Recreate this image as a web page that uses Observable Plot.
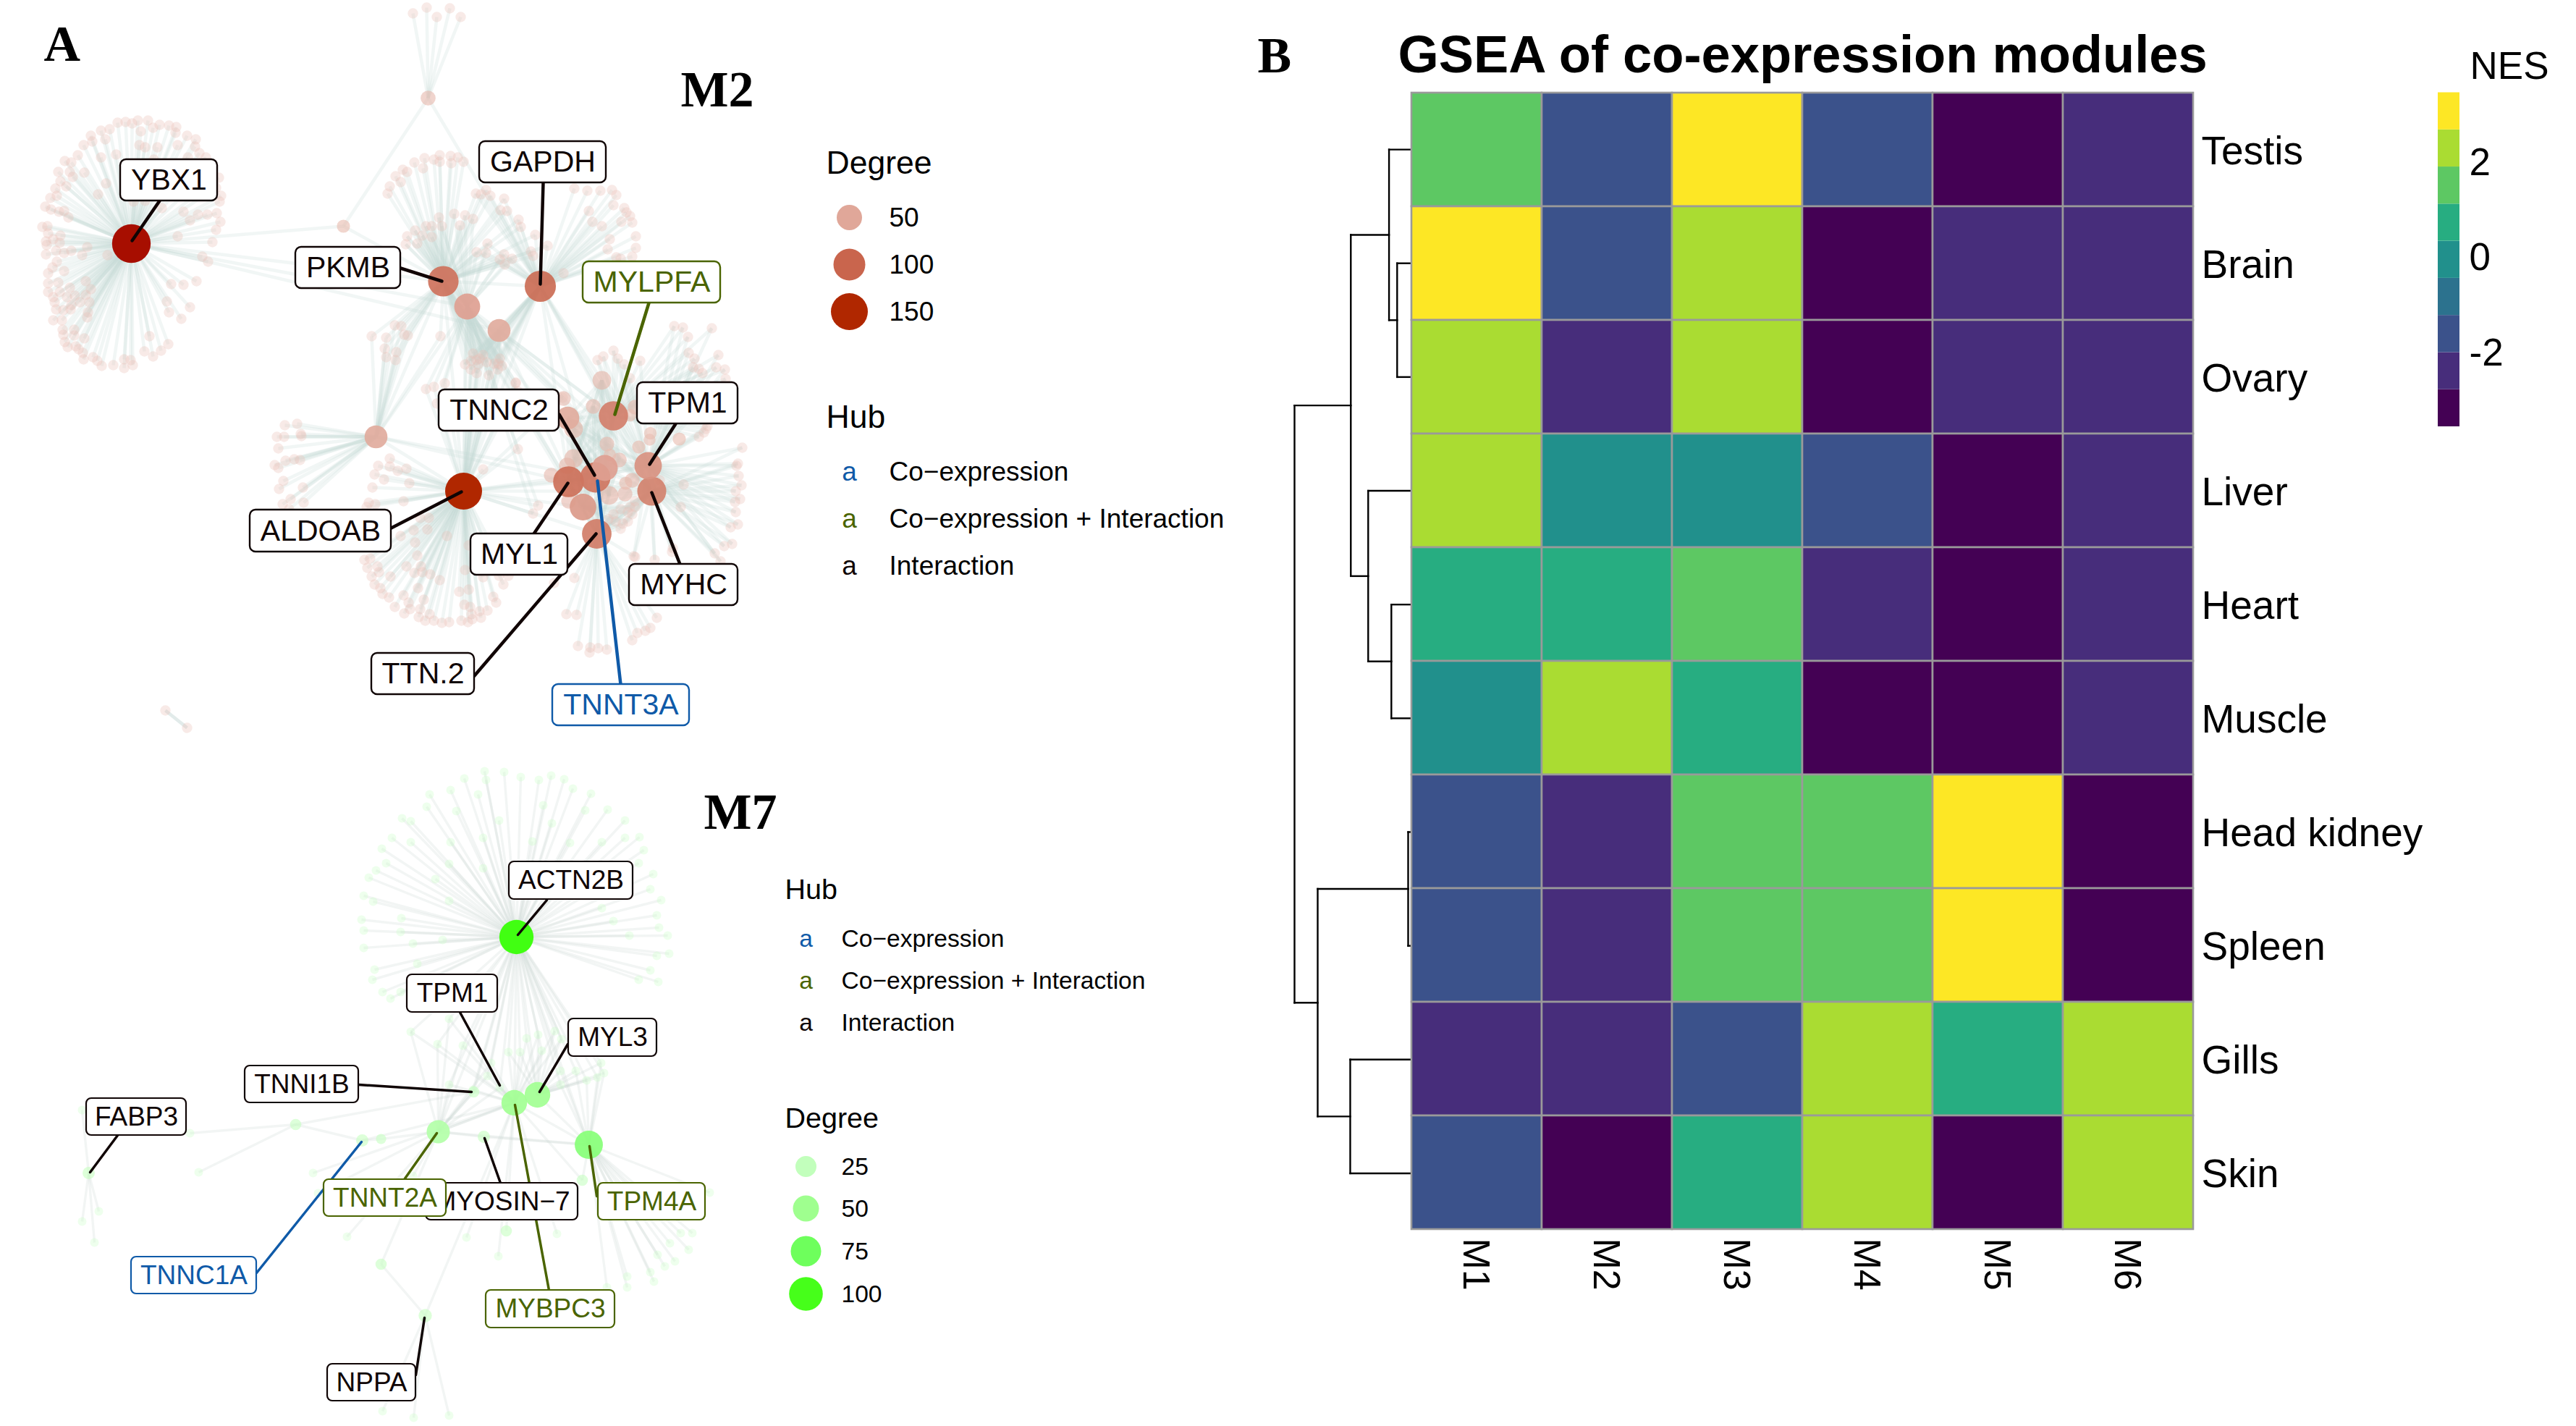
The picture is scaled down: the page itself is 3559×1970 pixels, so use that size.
<!DOCTYPE html>
<html>
<head>
<meta charset="utf-8">
<script src="https://cdn.jsdelivr.net/npm/d3@7"></script>
<script src="https://cdn.jsdelivr.net/npm/@observablehq/plot@0.6"></script>
<style>
html,body{margin:0;padding:0;background:#fff}
#page{position:relative;width:3559px;height:1970px;overflow:hidden}
#page>svg{position:absolute}
</style>
</head>
<body>
<div id="page"></div>
<script>
const SANS = "Liberation Sans, Arimo, Helvetica, Arial, sans-serif";
const SERIF = "Liberation Serif, Times New Roman, serif";
const BLUE = "#0f5aa8", GREEN = "#4a6400", BLACK = "#100505";

/* ---------- heatmap values ---------- */
const modules = ["M1","M2","M3","M4","M5","M6"];
const tissues = ["Testis","Brain","Ovary","Liver","Heart","Muscle","Head kidney","Spleen","Gills","Skin"];
const nesTestis = [1.5,-1.6,3.1,-1.6,-3.2,-2.4];
const nesBrain = [3.1,-1.6,2.3,-3.2,-2.4,-2.4];
const nesOvary = [2.3,-2.4,2.3,-3.2,-2.4,-2.4];
const nesLiver = [2.3,0,0,-1.6,-3.2,-2.4];
const nesHeart = [0.7,0.7,1.5,-2.4,-3.2,-2.4];
const nesMuscle = [0,2.3,0.7,-3.2,-3.2,-2.4];
const nesHeadKidney = [-1.6,-2.4,1.5,1.5,3.1,-3.2];
const nesSpleen = [-1.6,-2.4,1.5,1.5,3.1,-3.2];
const nesGills = [-2.4,-2.4,-1.6,2.3,0.7,2.3];
const nesSkin = [-1.6,-3.2,0.7,2.3,-3.2,2.3];
const nesRows = [nesTestis,nesBrain,nesOvary,nesLiver,nesHeart,nesMuscle,nesHeadKidney,nesSpleen,nesGills,nesSkin];
const nesBreaks = [-3.56,-2.78,-2,-1.22,-0.44,0.34,1.12,1.9,2.68,3.46];
const nesColors = ["#440154","#472D7B","#3B528B","#2C728E","#21908C","#27AD81","#5DC863","#AADC32","#FDE725"];
const nesTicks = [-2,0,2];
/* dendrogram: children are tissue names or indices of earlier merges; h = merge height */
const merges = [
 {a:"Brain",b:"Ovary",h:1.2},{a:"Testis",b:0,h:1.9},{a:"Heart",b:"Muscle",h:1.7},{a:"Liver",b:2,h:3.7},
 {a:1,b:3,h:5.2},{a:"Head kidney",b:"Spleen",h:0.25},{a:"Gills",b:"Skin",h:5.25},{a:5,b:6,h:8.06},{a:4,b:7,h:10.06}
];

/* ---------- M2 network (layout coordinates) ---------- */
const m2Hubs = {
 YBX1:[181,336,170],PKMB:[612,388,90],N645:[645,423,55],N689:[689,456,42],GAPDH:[746,395,95],TOP:[591,135,16],N1:[474,312,10],
 NL:[519,603,42],ALDOAB:[640,678,150],MYLPFA:[847,574,80],N831:[831,525,28],N819:[819,561,15],MYL1:[785,665,92],TNNC2:[822,659,88],
 N835:[835,646,55],N805:[805,700,60],TTN:[824,737,82],TPM1:[895,643,66],MYHC:[900,678,78],A784:[784,577,42],A792:[792,592,28],
 N838:[838,613,15],B792:[792,633,28],N783:[783,643,20],N761:[761,656,15],N855:[855,635,16],N841:[841,684,28],N863:[863,682,16],
 N873:[873,663,16],C877:[877,562,15],C870:[870,573,8],C882:[882,617,10],C898:[898,598,8],C897:[897,607,6],C938:[938,606,10],
 C842:[842,628,8],C785:[785,692,15],C778:[778,550,15],C864:[864,667,10]
};
const leavesYBX1 = [[162,169],[173,168],[182,170],[190,166],[204,166],[211,176],[220,172],[233,173],[243,175],[242,183],[258,187],[270,192],[269,202],[275,211],[284,217],[194,181],[151,178],[139,180],[125,187],[127,195],[145,192],[115,200],[107,214],[89,222],[98,224],[139,217],[160,213],[192,200],[200,203],[217,203],[245,200],[259,217],[212,220],[80,237],[96,237],[100,244],[116,238],[83,250],[91,257],[76,260],[146,253],[135,268],[78,270],[69,273],[62,285],[70,289],[81,292],[88,291],[94,300],[184,278],[200,277],[223,287],[253,292],[262,304],[273,296],[286,296],[299,294],[304,306],[298,317],[293,334],[245,326],[305,270],[303,278],[302,245],[298,259],[293,232],[279,354],[287,361],[271,388],[253,393],[236,392],[230,416],[262,424],[233,431],[250,440],[206,464],[232,475],[222,484],[199,485],[211,492],[183,504],[180,497],[171,496],[171,508],[156,504],[140,505],[134,498],[128,493],[115,496],[114,487],[108,482],[104,478],[93,479],[89,472],[116,467],[102,455],[102,463],[86,455],[87,462],[85,442],[73,442],[120,438],[121,431],[97,427],[87,428],[77,427],[75,417],[73,410],[66,403],[66,391],[66,377],[72,369],[78,361],[88,374],[80,390],[82,403],[92,410],[96,397],[103,408],[98,421],[110,417],[118,388],[125,399],[118,407],[123,417],[148,352],[120,341],[113,352],[98,346],[88,349],[77,346],[63,351],[64,338],[63,333],[73,330],[83,325],[82,335],[66,322],[65,312],[58,313]];
const leavesTop = [[570,18],[589,10],[603,23],[621,11],[636,23]];
const leavesPkmbUpper = [[535,267],[538,257],[546,243],[553,251],[556,234],[562,237],[572,224],[584,232],[586,218],[599,220],[607,214],[607,223],[622,215],[623,225],[632,217],[640,223]];
const leavesPkmbInner = [[560,337],[562,326],[573,318],[576,336],[583,325],[588,312],[596,312],[596,327],[606,300],[610,312],[627,295],[635,311],[642,297],[653,302]];
const leavesPkmbGapdh = [[657,267],[664,268],[671,262],[677,270],[696,274],[691,290],[700,291],[716,303],[719,313],[739,324],[756,339],[733,347],[736,353]];
const leavesCore = [[673,336],[658,348],[671,349],[696,351],[690,358],[707,357],[697,365]];
const leavesGapdh = [[793,260],[811,263],[829,263],[845,262],[851,269],[847,283],[813,291],[818,306],[831,312],[862,287],[865,293],[870,298],[858,306],[873,307],[842,330],[878,326],[839,344],[878,342],[873,354],[857,357],[778,377],[851,355]];
const leavesMidLeft = [[513,464],[533,466],[545,449],[554,450],[558,462],[563,463],[531,481],[547,486],[533,493],[546,497],[608,464]];
const leavesDense = [[653,488],[662,495],[658,497],[667,490],[650,498],[642,503],[660,503],[672,500],[682,502],[690,495],[688,502],[693,505],[658,515],[675,518],[687,510],[650,510]];
const leavesMidLow = [[588,537],[599,534],[614,529],[712,528],[715,540],[603,557],[715,620],[712,529],[743,698],[736,709],[777,549]];
const leavesRight = [[1025,618],[1019,640],[1017,643],[1020,657],[1024,670],[1016,678],[1022,689],[1015,693],[1016,707],[1019,724],[1009,728],[1011,751],[1000,754],[987,764],[995,775],[944,669],[940,700],[929,757],[928,762],[875,768],[904,773],[911,663]];
const leavesUpperRight = [[983,453],[950,465],[943,452],[931,450],[951,487],[959,495],[992,490],[989,507],[957,507],[965,509],[970,515],[1001,510],[1002,523],[975,592],[965,603],[972,597],[977,588],[884,498],[870,522],[825,497],[833,492],[847,484],[853,495],[862,503]];
const leavesSmallCentre = [[870,700],[877,692],[857,703],[867,707],[873,710],[847,710],[850,720],[860,723],[867,720],[857,730],[840,717],[877,700]];
const leavesBottom = [[782,848],[796,849],[798,892],[815,894],[814,901],[826,895],[838,897],[873,884],[880,874],[891,871],[898,867],[907,853],[877,769],[793,798],[765,805]];
const leavesAldoab = [[538,633],[522,643],[538,644],[549,650],[561,647],[517,655],[530,662],[565,667],[514,673],[557,692],[509,694],[518,696],[506,700],[580,715],[592,715],[571,732],[590,731],[553,740],[617,740],[573,749],[576,767],[503,773],[511,771],[507,784],[521,782],[523,790],[561,782],[581,782],[572,791],[583,790],[594,793],[607,801],[642,787],[513,796],[539,796],[517,807],[525,812],[528,820],[537,825],[577,812],[557,822],[634,817],[647,814],[681,824],[685,832],[585,828],[564,832],[545,838],[566,841],[558,847],[580,841],[578,852],[587,857],[593,848],[599,857],[610,860],[620,859],[641,835],[649,838],[637,857],[646,859],[652,855],[651,848],[662,844],[664,853],[673,843],[695,807],[667,797],[689,795],[702,795],[667,648],[647,753]];
const leavesNL = [[392,603],[416,602],[384,619],[379,642],[384,646],[394,636],[406,634],[414,635],[391,664],[385,675],[418,673],[390,696],[401,689],[419,694],[399,703],[410,585],[393,587],[415,599],[382,603]];
const m2Groups = [
 [["YBX1"],leavesYBX1],[["TOP"],leavesTop],[["PKMB"],leavesPkmbUpper],[["PKMB","N645"],leavesPkmbInner],[["PKMB","GAPDH"],leavesPkmbGapdh],
 [["PKMB","GAPDH","N645"],leavesCore],[["GAPDH"],leavesGapdh],[["PKMB","NL"],leavesMidLeft],[["PKMB","N645","N689","GAPDH","ALDOAB"],leavesDense],
 [["ALDOAB","N645"],leavesMidLow],[["MYHC","TPM1"],leavesRight],[["MYLPFA","TPM1"],leavesUpperRight],[["MYHC","TTN","N805"],leavesSmallCentre],
 [["TTN"],leavesBottom],[["ALDOAB"],leavesAldoab],[["NL"],leavesNL]
];
const m2Central = ["MYL1","TNNC2","N835","N805","TTN","TPM1","MYHC","MYLPFA","N831","N819","A784","A792","N838","B792","N855","N841"];
const m2Links = [["N1","YBX1"],["N1","PKMB"],["N1","TOP"],["TOP","GAPDH"],["YBX1","PKMB"],["YBX1","N645"],["YBX1","N689"],["NL","PKMB"],["NL","ALDOAB"],["NL","MYL1"],["NL","TNNC2"],["NL","N645"],
 ["ALDOAB","MYL1"],["ALDOAB","TNNC2"],["ALDOAB","N805"],["ALDOAB","TPM1"],["ALDOAB","PKMB"],["ALDOAB","N645"],["ALDOAB","N689"],["ALDOAB","TTN"],["ALDOAB","MYHC"],["ALDOAB","GAPDH"],
 ["GAPDH","MYLPFA"],["GAPDH","N831"],["GAPDH","MYL1"],["GAPDH","TNNC2"],["GAPDH","N689"],["GAPDH","MYHC"],["GAPDH","TPM1"],["PKMB","MYL1"],["PKMB","TTN"],["PKMB","GAPDH"],["N645","TNNC2"],["N645","MYLPFA"],["N645","MYHC"],["N645","TTN"],["N689","MYLPFA"],["N689","TPM1"],["N689","N805"],["N689","MYHC"]];
const m2Labels = [
 {name:"YBX1",box:[166,220,300,277],from:[220,277],to:[182,332],color:BLACK},
 {name:"GAPDH",box:[662,195,837,252],from:[750,252],to:[746,392],color:BLACK},
 {name:"PKMB",box:[408,341,553,398],from:[553,370],to:[610,388],color:BLACK},
 {name:"MYLPFA",box:[805,361,995,418],from:[896,418],to:[849,572],color:GREEN},
 {name:"TNNC2",box:[606,538,772,595],from:[772,572],to:[821,656],color:BLACK},
 {name:"TPM1",box:[880,528,1019,585],from:[933,585],to:[897,641],color:BLACK},
 {name:"ALDOAB",box:[345,704,540,762],from:[540,729],to:[637,679],color:BLACK},
 {name:"MYL1",box:[650,737,784,794],from:[737,737],to:[784,667],color:BLACK},
 {name:"MYHC",box:[869,779,1019,836],from:[939,779],to:[900,680],color:BLACK},
 {name:"TTN.2",box:[513,902,655,959],from:[655,933],to:[823,737],color:BLACK},
 {name:"TNNT3A",box:[763,945,952,1002],from:[857,945],to:[825,664],color:BLUE}
];
const m2Stray = [[228,981],[258,1005]];
const m2DegreeLegend = [50,100,150];
const m2DegreeLegendY = [300,365,430];
const hubKinds = ["Co\u2212expression","Co\u2212expression + Interaction","Interaction"];
const hubKindColors = [BLUE,GREEN,BLACK];
const m2HubLegendY = [663,728,793];

/* ---------- M7 network (layout coordinates) ---------- */
const m7Hubs = {
 ACTN2B:[713,1294,105],TPM1:[710,1523,48],MYL3:[742,1512,48],TNNT2A:[605,1563,36],TPM4A:[813,1581,62],TNNI1B:[654,1508,6],
 MYOSIN:[668,1570,8],TNNC1A:[500,1575,8],P526:[526,1573,4],P408:[408,1553,6],FABP3:[122,1620,8],NPPA:[587,1817,10],P746:[526,1746,6],P804:[804,1630,6],P699:[699,1700,6]
};
const m7Upper = [[669,1065],[696,1066],[719,1073],[744,1077],[761,1071],[779,1076],[791,1089],[816,1096],[641,1075],[671,1077],[622,1091],[660,1097],[593,1097],[589,1114],[630,1120],[750,1112],[808,1119],[839,1118],[863,1133],[555,1130],[567,1134],[689,1133],[762,1137],[541,1157],[667,1157],[567,1163],[622,1163],[735,1162],[787,1164],[831,1163],[863,1157],[883,1156],[889,1174],[527,1172],[533,1192],[620,1193],[667,1199],[882,1192],[519,1202],[509,1212],[601,1214],[902,1207],[898,1228],[502,1237],[515,1245],[620,1244],[913,1243],[831,1254],[907,1264],[499,1270],[554,1268],[847,1272],[910,1281],[502,1285],[553,1287],[869,1292],[922,1292],[611,1298],[570,1303],[502,1309],[907,1320],[924,1317],[576,1331],[517,1339],[898,1340],[514,1353],[882,1353],[909,1356],[528,1370],[553,1370],[539,1379]];
const m7SecondLeft = [[620,1407],[567,1425],[604,1442],[639,1444],[620,1498],[653,1505],[673,1486],[678,1468],[690,1502]];
const m7SecondMid = [[702,1453],[718,1453],[748,1451],[727,1434],[743,1429],[766,1424],[775,1435]];
const m7SecondRight = [[774,1479],[795,1479],[830,1468],[834,1482],[810,1492],[825,1488],[774,1498]];
const m7FabpLeaves = [[113,1533],[136,1673],[113,1687],[130,1716]];
const m7NppaLeaves = [[528,1949],[571,1958],[620,1955]];
const m7LowerTpm1 = [[644,1709],[688,1735],[769,1704],[432,1620]];
const m7LowerTnnt = [[479,1708],[570,1624],[439,1648]];
const m7P408Leaves = [[262,1565],[274,1619]];
const m7Tpm4Leaves = [[980,1647],[956,1703],[940,1703],[925,1717],[951,1726],[908,1733],[932,1742],[918,1749],[898,1757],[903,1770],[866,1763],[866,1778],[838,1778]];
const m7Groups = [
 [["ACTN2B"],m7Upper],[["ACTN2B","TPM1","TNNT2A"],m7SecondLeft],[["ACTN2B","TPM1","MYL3"],m7SecondMid],[["ACTN2B","MYL3","TPM4A"],m7SecondRight],
 [["FABP3"],m7FabpLeaves],[["NPPA"],m7NppaLeaves],[["TPM1"],m7LowerTpm1],[["TNNT2A"],m7LowerTnnt],[["P408"],m7P408Leaves],[["TPM4A"],m7Tpm4Leaves]
];
const m7Links = [["ACTN2B","TPM1"],["ACTN2B","MYL3"],["ACTN2B","TPM4A"],["ACTN2B","TNNT2A"],["ACTN2B","TNNI1B"],["TPM1","TPM4A"],["MYL3","TPM4A"],["TPM1","TNNT2A"],["MYL3","TNNT2A"],["TNNT2A","TNNI1B"],
 ["TNNT2A","P526"],["P526","TNNC1A"],["TNNT2A","MYOSIN"],["MYOSIN","TPM4A"],["TNNT2A","TPM4A"],["P408","TNNC1A"],["P408","TNNI1B"],["P746","NPPA"],["P746","TNNT2A"],["NPPA","TPM1"],["P804","TPM4A"],["P804","TPM1"],["P699","TPM1"],["TNNC1A","TPM1"]];
const m7Labels = [
 {name:"ACTN2B",box:[703,1190,874,1242],from:[755,1243],to:[715,1291],color:BLACK},
 {name:"TPM1",box:[562,1346,687,1398],from:[635,1398],to:[690,1499],color:BLACK},
 {name:"MYL3",box:[785,1407,907,1459],from:[784,1442],to:[745,1508],color:BLACK},
 {name:"TNNI1B",box:[338,1472,495,1523],from:[495,1498],to:[651,1508],color:BLACK},
 {name:"FABP3",box:[119,1517,257,1568],from:[162,1568],to:[124,1619],color:BLACK},
 {name:"MYOSIN\u22127",box:[588,1634,798,1685],from:[691,1634],to:[669,1572],color:BLACK},
 {name:"TNNT2A",box:[447,1629,616,1680],from:[558,1629],to:[603,1565],color:GREEN},
 {name:"TPM4A",box:[826,1634,974,1685],from:[824,1652],to:[814,1583],color:GREEN},
 {name:"MYBPC3",box:[671,1782,849,1834],from:[758,1782],to:[711,1526],color:GREEN},
 {name:"TNNC1A",box:[181,1736,354,1787],from:[354,1758],to:[499,1577],color:BLUE},
 {name:"NPPA",box:[452,1884,574,1935],from:[574,1899],to:[586,1820],color:BLACK}
];
const m7DegreeLegend = [25,50,75,100];
const m7DegreeLegendY = [1611,1669,1728,1787];
const m7HubLegendY = [1307,1365,1423];

/* ---------- helpers ---------- */
const page = document.getElementById("page");
function place(svg,left,top){svg.style.left=left+"px";svg.style.top=top+"px";page.appendChild(svg);}
function networkMarks(hubs,groups,links,labels,edge,lw,fs,rectW,rx,leafOpacity){
  const hubRows = Object.entries(hubs).map(([id,[x,y,degree]])=>({id,x,y,degree}));
  const leafRows = groups.flatMap(([,ls])=>ls.map(([x,y])=>({x,y,degree:1})));
  const edges = groups.flatMap(([hs,ls])=>hs.flatMap(h=>ls.map(([x,y])=>({x1:x,y1:y,x2:hubs[h][0],y2:hubs[h][1]}))))
    .concat(links.map(([a,b])=>({x1:hubs[a][0],y1:hubs[a][1],x2:hubs[b][0],y2:hubs[b][1]})));
  const marks = [
    Plot.link(edges,{x1:"x1",y1:"y1",x2:"x2",y2:"y2",stroke:edge.color,strokeOpacity:edge.opacity,strokeWidth:edge.width}),
    Plot.dot(leafRows,{x:"x",y:"y",r:"degree",fill:"degree",fillOpacity:leafOpacity}),
    Plot.dot(hubRows.filter(d=>d.degree<30),{x:"x",y:"y",r:"degree",fill:"degree",fillOpacity:0.6}),
    Plot.dot(hubRows.filter(d=>d.degree>=30&&d.degree<100),{x:"x",y:"y",r:"degree",fill:"degree",fillOpacity:0.92}),
    Plot.dot(hubRows.filter(d=>d.degree>=100),{x:"x",y:"y",r:"degree",fill:"degree"}),
    Plot.link(labels,{x1:d=>d.from[0],y1:d=>d.from[1],x2:d=>d.to[0],y2:d=>d.to[1],stroke:"color",strokeWidth:lw,strokeLinecap:"round"})
  ];
  for(const l of labels){
    marks.push(Plot.rect([l],{x1:d=>d.box[0],y1:d=>d.box[1],x2:d=>d.box[2],y2:d=>d.box[3],fill:"white",stroke:l.color,strokeWidth:rectW,rx}));
    marks.push(Plot.text([l],{x:d=>(d.box[0]+d.box[2])/2,y:d=>(d.box[1]+d.box[3])/2,text:"name",fill:l.color,fontSize:fs}));
  }
  return marks;
}
function legendMarks(x0,xDot,xText,title1,title2,t1y,t2y,tfs,fs,kindY,deg,degY){
  const base={lineAnchor:"bottom",textAnchor:"start"};
  return [
    Plot.text([title1],{...base,x:()=>x0,y:()=>t1y,text:d=>d,fontSize:tfs,fill:"#000"}),
    Plot.text([title2],{...base,x:()=>x0,y:()=>t2y,text:d=>d,fontSize:tfs,fill:"#000"}),
    Plot.dot(deg,{x:()=>xDot,y:(d,i)=>degY[i],r:d=>d,fill:d=>d}),
    Plot.text(deg,{...base,x:()=>xText,y:(d,i)=>degY[i]+fs*0.33,text:d=>String(d),fontSize:fs,fill:"#000"}),
    Plot.text(hubKinds,{lineAnchor:"bottom",textAnchor:"middle",x:()=>xDot,y:(d,i)=>kindY[i],text:()=>"a",fontSize:fs,fill:(d,i)=>hubKindColors[i]}),
    Plot.text(hubKinds,{...base,x:()=>xText,y:(d,i)=>kindY[i],text:d=>d,fontSize:fs,fill:"#000"})
  ];
}
const strayLink = [{x1:m2Stray[0][0],y1:m2Stray[0][1],x2:m2Stray[1][0],y2:m2Stray[1][1]}];
const centralLinks = m2Central.flatMap((a,i)=>m2Central.slice(i+1).map(b=>[a,b]));

/* ---------- M2 panel ---------- */
place(Plot.plot({
  width:1740,height:1030,margin:0,
  x:{domain:[0,1740],range:[0,1740],axis:null},
  y:{domain:[0,1030],range:[0,1030],axis:null},
  r:{type:"linear",domain:[1,50,100,150,175],range:[7.2,17.5,22,25.5,27]},
  color:{type:"linear",domain:[1,50,100,150,175],range:["#e8bfb3","#e0a799","#c9654d","#b02700","#a50800"]},
  style:{background:"transparent",fontFamily:SANS,overflow:"visible"},
  marks:[
    ...networkMarks(m2Hubs,m2Groups,m2Links.concat(centralLinks),m2Labels,{color:"#c5d8d5",opacity:0.24,width:4.5},4.5,41,2.4,8,0.32),
    Plot.link(strayLink,{x1:"x1",y1:"y1",x2:"x2",y2:"y2",stroke:"#c5d8d5",strokeOpacity:0.5,strokeWidth:4.5}),
    Plot.dot(m2Stray,{x:d=>d[0],y:d=>d[1],r:()=>1,fill:()=>1,fillOpacity:0.32}),
    Plot.text(["A"],{x:()=>60,y:()=>83,text:d=>d,textAnchor:"start",lineAnchor:"bottom",fontFamily:SERIF,fontWeight:"bold",fontSize:70,fill:"#000"}),
    Plot.text(["M2"],{x:()=>940,y:()=>146,text:d=>d,textAnchor:"start",lineAnchor:"bottom",fontFamily:SERIF,fontWeight:"bold",fontSize:70,fill:"#000"}),
    ...legendMarks(1141,1173,1228,"Degree","Hub",239,590,44.5,37,m2HubLegendY,m2DegreeLegend,m2DegreeLegendY)
  ]
}),0,0);

/* ---------- M7 panel ---------- */
place(Plot.plot({
  width:1740,height:940,margin:0,
  x:{domain:[0,1740],range:[0,1740],axis:null},
  y:{domain:[1030,1970],range:[0,940],axis:null},
  r:{type:"linear",domain:[1,25,50,75,100,110],range:[6,14.5,18,21,23.3,24]},
  color:{type:"linear",domain:[1,25,50,75,100,110],range:["#c8ffc2","#c2ffbc","#9fff8f","#6eff5c","#46ff1a","#3cff0a"]},
  style:{background:"transparent",fontFamily:SANS,overflow:"visible"},
  marks:[
    ...networkMarks(m7Hubs,m7Groups,m7Links,m7Labels,{color:"#c9d6d3",opacity:0.24,width:3.4},3.5,37,2.2,7,0.3),
    Plot.text(["M7"],{x:()=>972,y:()=>1144,text:d=>d,textAnchor:"start",lineAnchor:"bottom",fontFamily:SERIF,fontWeight:"bold",fontSize:70,fill:"#000"}),
    ...legendMarks(1084,1113,1162,"Hub","Degree",1241,1557,39.5,33.6,m7HubLegendY,m7DegreeLegend,m7DegreeLegendY)
  ]
}),0,1030);

/* ---------- dendrogram ---------- */
const rowPos = t=>tissues.indexOf(t)+0.5;
const nodeInfo = [];
const dendroLinks = [];
function childInfo(c){return typeof c==="string"?{y:rowPos(c),h:0}:nodeInfo[c];}
for(const m of merges){
  const a=childInfo(m.a),b=childInfo(m.b);
  dendroLinks.push({x1:a.h,y1:a.y,x2:m.h,y2:a.y},{x1:b.h,y1:b.y,x2:m.h,y2:b.y},{x1:m.h,y1:a.y,x2:m.h,y2:b.y});
  nodeInfo.push({y:(a.y+b.y)/2,h:m.h});
}
place(Plot.plot({
  width:249,height:1720,margin:0,
  x:{domain:[10.06,0],range:[88,249],axis:null},
  y:{domain:[0,10],range:[127.5,1699],axis:null},
  style:{background:"transparent",overflow:"visible"},
  marks:[Plot.link(dendroLinks,{x1:"x1",y1:"y1",x2:"x2",y2:"y2",stroke:"#000",strokeWidth:2.4,strokeLinecap:"square"})]
}),1700,0);

/* ---------- heatmap ---------- */
const heatCells = tissues.flatMap((t,i)=>modules.map((m,j)=>({tissue:t,module:m,nes:nesRows[i][j]})));
const heatColor = {type:"threshold",domain:nesBreaks.slice(1,-1),range:nesColors};
place(Plot.plot({
  width:1640,height:1970,
  marginLeft:249,marginRight:309,marginTop:127.5,marginBottom:271,
  x:{domain:modules,padding:0,label:null,axis:null},
  y:{domain:tissues,padding:0,label:null,axis:null},
  color:heatColor,
  style:{background:"transparent",fontFamily:SANS,overflow:"visible",color:"#000"},
  marks:[
    Plot.cell(heatCells,{x:"module",y:"tissue",fill:"nes",stroke:"#9a9a9a",strokeWidth:2.6,inset:0}),
    Plot.axisX({anchor:"bottom",tickSize:0,tickRotate:90,tickPadding:11,fontSize:52,label:null,dx:-2}),
    Plot.axisY({anchor:"right",tickSize:0,tickPadding:10,fontSize:55,label:null,dy:2}),
    Plot.text(["GSEA of co-expression modules"],{frameAnchor:"top-left",dx:-18,dy:-28.5,text:d=>d,textAnchor:"start",lineAnchor:"bottom",fontWeight:"bold",fontSize:72.3,fill:"#000"}),
    Plot.text(["B"],{frameAnchor:"top-left",dx:-212,dy:-28.5,text:d=>d,textAnchor:"start",lineAnchor:"bottom",fontFamily:SERIF,fontWeight:"bold",fontSize:70,fill:"#000"})
  ]
}),1700,0);

/* ---------- NES legend ---------- */
const nesBins = nesColors.map((c,i)=>({lo:nesBreaks[i],hi:nesBreaks[i+1],mid:(nesBreaks[i]+nesBreaks[i+1])/2}));
place(Plot.plot({
  width:219,height:620,marginLeft:28,marginRight:161,marginTop:127.5,marginBottom:31,
  x:{domain:[0,1],axis:null},
  y:{domain:[nesBreaks[0],nesBreaks[nesBreaks.length-1]],axis:null},
  color:heatColor,
  style:{background:"transparent",fontFamily:SANS,overflow:"visible",color:"#000"},
  marks:[
    Plot.rect(nesBins,{x1:()=>0,x2:()=>1,y1:"lo",y2:"hi",fill:"mid",inset:0}),
    Plot.axisY({anchor:"right",ticks:nesTicks,tickFormat:d=>String(d),tickSize:0,tickPadding:13,fontSize:53,label:null,dy:1}),
    Plot.text(["NES"],{frameAnchor:"top-left",dx:44,dy:-19.5,text:d=>d,textAnchor:"start",lineAnchor:"bottom",fontSize:53,fill:"#000"})
  ]
}),3340,0);
</script>
</body>
</html>
